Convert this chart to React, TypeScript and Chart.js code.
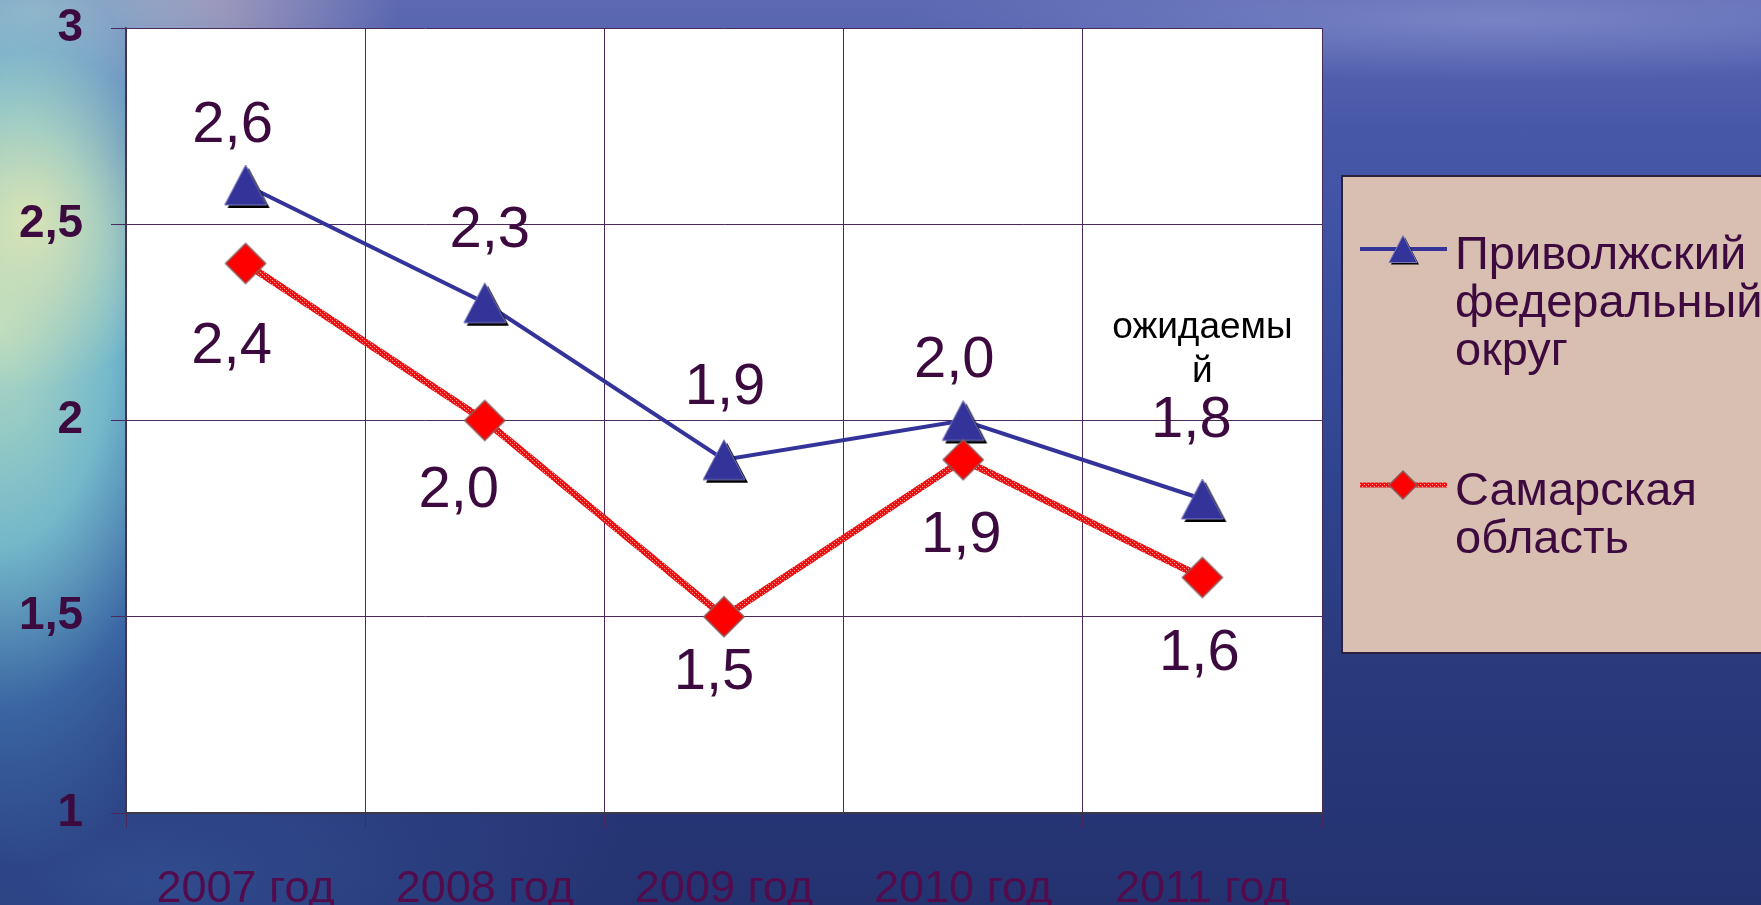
import React, { useEffect, useRef } from 'react';
import { Chart, registerables } from 'chart.js';

Chart.register(...registerables);

// ---------- data ----------
const categories = ['2007 год', '2008 год', '2009 год', '2010 год', '2011 год'];
const seriesLabels = ['Приволжский федеральный округ', 'Самарская область'];
const volgaValues = [2.6, 2.3, 1.9, 2.0, 1.8];
const samaraValues = [2.4, 2.0, 1.5, 1.9, 1.6];
const yMin = 1;
const yMax = 3;
const yStep = 0.5;
const noteLines = ['ожидаемы', 'й'];
const noteIndex = 4;

// ---------- label placement (px offsets from each point) ----------
const volgaLabelOffsets = [[-13, -59], [5, -72], [1, -72], [-9, -60], [-11, -78]];
const samaraLabelOffsets = [[-14, 83], [-26, 70], [-10, 56], [-2, 76], [-3, 76]];

const FONT = '"Liberation Sans", Arial, sans-serif';
const TEXT = '#3c0a3e';
const XTEXT = '#520c4c';
const BLUE = '#333399';
const RED = '#ff0000';
const GRID = '#4a2a5e';

const fmt = (v: number, d: number) => v.toFixed(d).replace('.', ',');

function drawTriangle(ctx: CanvasRenderingContext2D, cx: number, cy: number, w: number, h: number, shadow: number) {
  const pts = [[cx, cy - h / 2], [cx + w / 2, cy + h / 2], [cx - w / 2, cy + h / 2]];
  const path = (dx: number) => {
    ctx.beginPath();
    pts.forEach(([x, y], i) => (i ? ctx.lineTo(x + dx, y + dx) : ctx.moveTo(x + dx, y + dx)));
    ctx.closePath();
  };
  if (shadow) {
    path(shadow);
    ctx.fillStyle = '#000';
    ctx.fill();
  }
  path(0);
  ctx.fillStyle = BLUE;
  ctx.fill();
  ctx.strokeStyle = '#7a7abb';
  ctx.lineWidth = 1;
  ctx.stroke();
}

function drawDiamond(ctx: CanvasRenderingContext2D, cx: number, cy: number, w: number, h: number) {
  ctx.beginPath();
  ctx.moveTo(cx, cy - h / 2);
  ctx.lineTo(cx + w / 2, cy);
  ctx.lineTo(cx, cy + h / 2);
  ctx.lineTo(cx - w / 2, cy);
  ctx.closePath();
  ctx.fillStyle = RED;
  ctx.fill();
  ctx.strokeStyle = '#8c5a5a';
  ctx.lineWidth = 1.5;
  ctx.stroke();
}

function makeMarker(kind: 'tri' | 'dia', w: number, h: number) {
  const pad = 5;
  const c = document.createElement('canvas');
  c.width = w + pad * 2;
  c.height = h + pad * 2;
  const ctx = c.getContext('2d')!;
  if (kind === 'tri') drawTriangle(ctx, c.width / 2, c.height / 2, w, h, 3);
  else drawDiamond(ctx, c.width / 2, c.height / 2, w, h);
  return c;
}

function makeRopePattern(ctx: CanvasRenderingContext2D) {
  const t = document.createElement('canvas');
  t.width = 4;
  t.height = 4;
  const c = t.getContext('2d')!;
  c.fillStyle = '#f01414';
  c.fillRect(0, 0, 4, 4);
  c.fillStyle = '#ff9c9c';
  c.fillRect(0, 0, 1, 1);
  c.fillRect(2, 2, 1, 1);
  c.fillStyle = '#c80a0a';
  c.fillRect(1, 3, 1, 1);
  c.fillRect(3, 1, 1, 1);
  return ctx.createPattern(t, 'repeat') || RED;
}

const plotBg = {
  id: 'plotBg',
  beforeDraw(chart: any) {
    const { ctx, chartArea: a } = chart;
    ctx.save();
    ctx.fillStyle = '#ffffff';
    ctx.fillRect(a.left, a.top, a.right - a.left, a.bottom - a.top);
    ctx.restore();
  },
};

const valueLabels = {
  id: 'valueLabels',
  afterDatasetsDraw(chart: any) {
    const { ctx } = chart;
    const offsets = [volgaLabelOffsets, samaraLabelOffsets];
    ctx.save();
    ctx.font = `58px ${FONT}`;
    ctx.fillStyle = TEXT;
    ctx.textAlign = 'center';
    ctx.textBaseline = 'middle';
    chart.data.datasets.forEach((ds: any, di: number) => {
      const meta = chart.getDatasetMeta(di);
      meta.data.forEach((el: any, i: number) => {
        const [dx, dy] = offsets[di][i];
        ctx.fillText(fmt(ds.data[i], 1), el.x + dx, el.y + dy);
      });
    });
    // forecast note
    const el = chart.getDatasetMeta(0).data[noteIndex];
    ctx.font = `37px ${FONT}`;
    ctx.fillStyle = '#000000';
    ctx.textBaseline = 'alphabetic';
    noteLines.forEach((line, k) => ctx.fillText(line, el.x, el.y - 161 + k * 44));
    ctx.restore();
  },
};

const sideLegend = {
  id: 'sideLegend',
  afterDraw(chart: any) {
    const { ctx } = chart;
    const bx = 1342, by = 176, bw = 440, bh = 477;
    ctx.save();
    ctx.fillStyle = '#d8bfb1';
    ctx.fillRect(bx, by, bw, bh);
    ctx.strokeStyle = '#2b2040';
    ctx.lineWidth = 2;
    ctx.strokeRect(bx, by, bw, bh);
    const itemY = [249, 485];
    chart.data.datasets.forEach((ds: any, di: number) => {
      const y = itemY[di];
      ctx.beginPath();
      ctx.moveTo(1360, y);
      ctx.lineTo(1447, y);
      ctx.strokeStyle = ds.borderColor;
      ctx.lineWidth = di === 0 ? 4 : 5;
      ctx.stroke();
      if (di === 0) drawTriangle(ctx, 1403, y, 28, 27, 2);
      else drawDiamond(ctx, 1403, y, 28, 28);
      ctx.font = `47px ${FONT}`;
      ctx.fillStyle = TEXT;
      ctx.textAlign = 'left';
      ctx.textBaseline = 'alphabetic';
      String(ds.label).split(' ').forEach((word, k) => {
        ctx.fillText(word, 1455, y + 20 + k * 48);
      });
    });
    ctx.restore();
  },
};

export default function App() {
  const ref = useRef<HTMLCanvasElement | null>(null);

  useEffect(() => {
    const canvas = ref.current!;
    const ctx = canvas.getContext('2d')!;
    const triImg = makeMarker('tri', 42, 40);
    const diaImg = makeMarker('dia', 40, 40);
    const rope = makeRopePattern(ctx);

    const chart = new Chart(canvas, {
      type: 'line',
      data: {
        labels: categories,
        datasets: [
          {
            label: seriesLabels[0],
            data: volgaValues,
            borderColor: BLUE,
            borderWidth: 4,
            pointStyle: triImg as any,
            order: 1,
            tension: 0,
          },
          {
            label: seriesLabels[1],
            data: samaraValues,
            borderColor: rope as any,
            borderWidth: 7,
            pointStyle: diaImg as any,
            order: 0,
            tension: 0,
          },
        ],
      },
      options: {
        animation: false,
        responsive: true,
        maintainAspectRatio: false,
        layout: { padding: { top: 28, right: 439, bottom: 0, left: 0 } },
        plugins: {
          legend: { display: false },
          tooltip: { enabled: false },
        },
        scales: {
          x: {
            offset: true,
            grid: { offset: true, color: GRID, lineWidth: 1, tickLength: 15, drawTicks: true },
            border: { display: true, color: '#3a3a4a', width: 2 },
            ticks: { color: XTEXT, font: { family: FONT, size: 45 }, padding: 35, maxRotation: 0, autoSkip: false },
            afterFit: (s: any) => {
              s.height = 92;
              s.paddingLeft = 0;
              s.paddingRight = 0;
            },
          },
          y: {
            min: yMin,
            max: yMax,
            ticks: {
              stepSize: yStep,
              color: TEXT,
              font: { family: FONT, size: 46, weight: 'bold' },
              padding: 28,
              callback: (v: any) => String(v).replace('.', ','),
            },
            grid: { color: GRID, lineWidth: 1, tickLength: 15, drawTicks: true },
            border: { display: true, color: '#3a3a4a', width: 1.5 },
            afterFit: (s: any) => {
              s.width = 126;
              s.paddingTop = 0;
              s.paddingBottom = 0;
            },
          },
        },
      },
      plugins: [plotBg, valueLabels, sideLegend],
    });
    return () => chart.destroy();
  }, []);

  return (
    <div
      style={{
        position: 'fixed',
        left: 0,
        top: 0,
        width: 1761,
        height: 905,
        background: [
          'radial-gradient(ellipse 150px 170px at 30px 220px, rgba(228,232,178,0.85), rgba(210,230,180,0) 100%)',
          'radial-gradient(ellipse 280px 540px at 0px 330px, rgba(185,225,195,0.95), rgba(125,200,210,0.88) 40%, rgba(75,145,200,0.5) 70%, rgba(60,120,190,0) 100%)',
          'radial-gradient(ellipse 360px 150px at 40px 10px, rgba(225,205,200,0.95), rgba(200,190,205,0) 100%)',
          'radial-gradient(ellipse 600px 60px at 1500px 20px, rgba(140,150,210,0.6), rgba(120,130,200,0) 100%)',
          'radial-gradient(ellipse 500px 200px at 150px 880px, rgba(60,100,170,0.5), rgba(60,100,170,0) 100%)',
          'linear-gradient(180deg, #5d69b2 0%, #4858a9 14%, #3b4fa0 32%, #30458f 52%, #29397c 74%, #243270 100%)',
        ].join(', '),
      }}
    >
      <canvas ref={ref} style={{ display: 'block' }} />
    </div>
  );
}
